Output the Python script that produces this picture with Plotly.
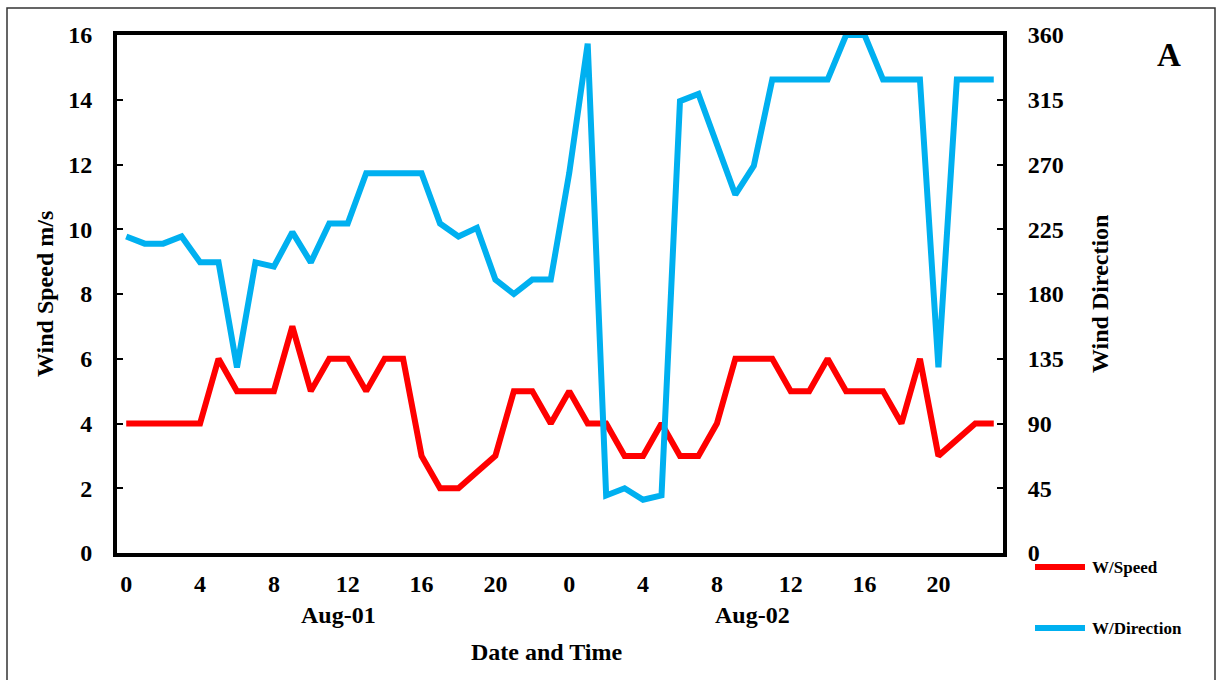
import plotly.graph_objects as go

# ---- data ----
dates = ["Aug-01", "Aug-02"]
hours = list(range(24))
wind_speed = [4, 4, 4, 4, 4, 6, 5, 5, 5, 7, 5, 6, 6, 5, 6, 6, 3, 2, 2, 2.5, 3, 5, 5, 4,
              5, 4, 4, 3, 3, 4, 3, 3, 4, 6, 6, 6, 5, 5, 6, 5, 5, 5, 4, 6, 3, 3.5, 4, 4]
wind_dir = [220, 215, 215, 220, 202, 202, 129, 202, 199, 223, 202, 229, 229, 264, 264, 264,
            264, 229, 220, 226, 190, 180, 190, 190,
            264, 354, 40, 45, 37, 40, 314, 319, 285, 249, 269, 329, 329, 329, 329, 360,
            360, 329, 329, 329, 129, 329, 329, 329]
tick_hours = [0, 4, 8, 12, 16, 20]
speed_ticks = [0, 2, 4, 6, 8, 10, 12, 14, 16]
dir_ticks = [0, 45, 90, 135, 180, 225, 270, 315, 360]

x_idx = list(range(len(dates) * len(hours)))
tickvals = [d * 24 + h for d in range(len(dates)) for h in tick_hours]
ticktext = [str(h) for d in range(len(dates)) for h in tick_hours]

RED = "#FF0000"
BLUE = "#00B0F0"
FONT = "Liberation Serif"

fig = go.Figure()
fig.add_trace(go.Scatter(x=x_idx, y=wind_speed, mode="lines", name="W/Speed",
                         line=dict(color=RED, width=6), yaxis="y", showlegend=False))
fig.add_trace(go.Scatter(x=x_idx, y=wind_dir, mode="lines", name="W/Direction",
                         line=dict(color=BLUE, width=6), yaxis="y2", showlegend=False,
                         cliponaxis=False))

# plot area in pixels: x 117..1003, y 35..553
L, R, T, B = 117, 1003, 35, 553
W, H = R - L, B - T
def px(x):
    return (x - L) / W
def py(y):
    return (B - y) / H

tickfont = dict(family=FONT, size=24, color="black", weight="bold")

fig.update_layout(
    width=1221, height=680,
    margin=dict(l=L, r=1221 - R, t=T, b=680 - B),
    paper_bgcolor="white", plot_bgcolor="white",
    xaxis=dict(range=[-0.5, 47.5], tickvals=tickvals, ticktext=ticktext,
               showgrid=False, zeroline=False, showline=True, linecolor="black",
               linewidth=4, mirror=True, ticks="", tickfont=tickfont,
               ticklabelstandoff=6),
    yaxis=dict(range=[0, 16], tickvals=speed_ticks, showgrid=False, zeroline=False,
               showline=True, linecolor="black", linewidth=4, ticks="inside",
               ticklen=6, tickwidth=2, tickcolor="black", tickfont=tickfont,
               ticklabelstandoff=16),
    yaxis2=dict(range=[0, 360], tickvals=dir_ticks, overlaying="y", side="right",
                showgrid=False, zeroline=False, showline=True, linecolor="black",
                linewidth=4, ticks="inside", ticklen=6, tickwidth=2, tickcolor="black",
                tickfont=tickfont, ticklabelstandoff=16),
    showlegend=False,
)

ann_font = dict(family=FONT, size=24, color="black", weight="bold")
def ann(text, x, y, **kw):
    d = dict(text=text, x=x, y=y, xref="paper", yref="paper", showarrow=False,
             xanchor="center", yanchor="middle", font=ann_font)
    d.update(kw)
    return d

leg_font = dict(family=FONT, size=17, color="black", weight="bold")
annotations = [
    ann(dates[0], px(338), py(615)),
    ann(dates[1], px(752), py(615)),
    ann("Date and Time", px(546), py(652)),
    ann("Wind Speed m/s", px(45), 0.5, textangle=-90),
    ann("Wind Direction", px(1100), 0.5, textangle=-90),
    ann("A", px(1169), py(55), font=dict(family=FONT, size=33, color="black", weight="bold")),
    ann("W/Speed", px(1090), py(567), xanchor="left", font=leg_font),
    ann("W/Direction", px(1090), py(628), xanchor="left", font=leg_font),
]
fig.update_layout(annotations=annotations)

shapes = [
    dict(type="rect", xref="paper", yref="paper", x0=px(7), x1=px(1215), y0=py(690), y1=py(8),
         line=dict(color="#333333", width=1.5), fillcolor="rgba(0,0,0,0)", layer="below"),
    dict(type="line", xref="paper", yref="paper", x0=px(1035), x1=px(1085), y0=py(567), y1=py(567),
         line=dict(color=RED, width=6)),
    dict(type="line", xref="paper", yref="paper", x0=px(1035), x1=px(1085), y0=py(628), y1=py(628),
         line=dict(color=BLUE, width=6)),
]
fig.update_layout(shapes=shapes)

fig.write_html("out.html")
